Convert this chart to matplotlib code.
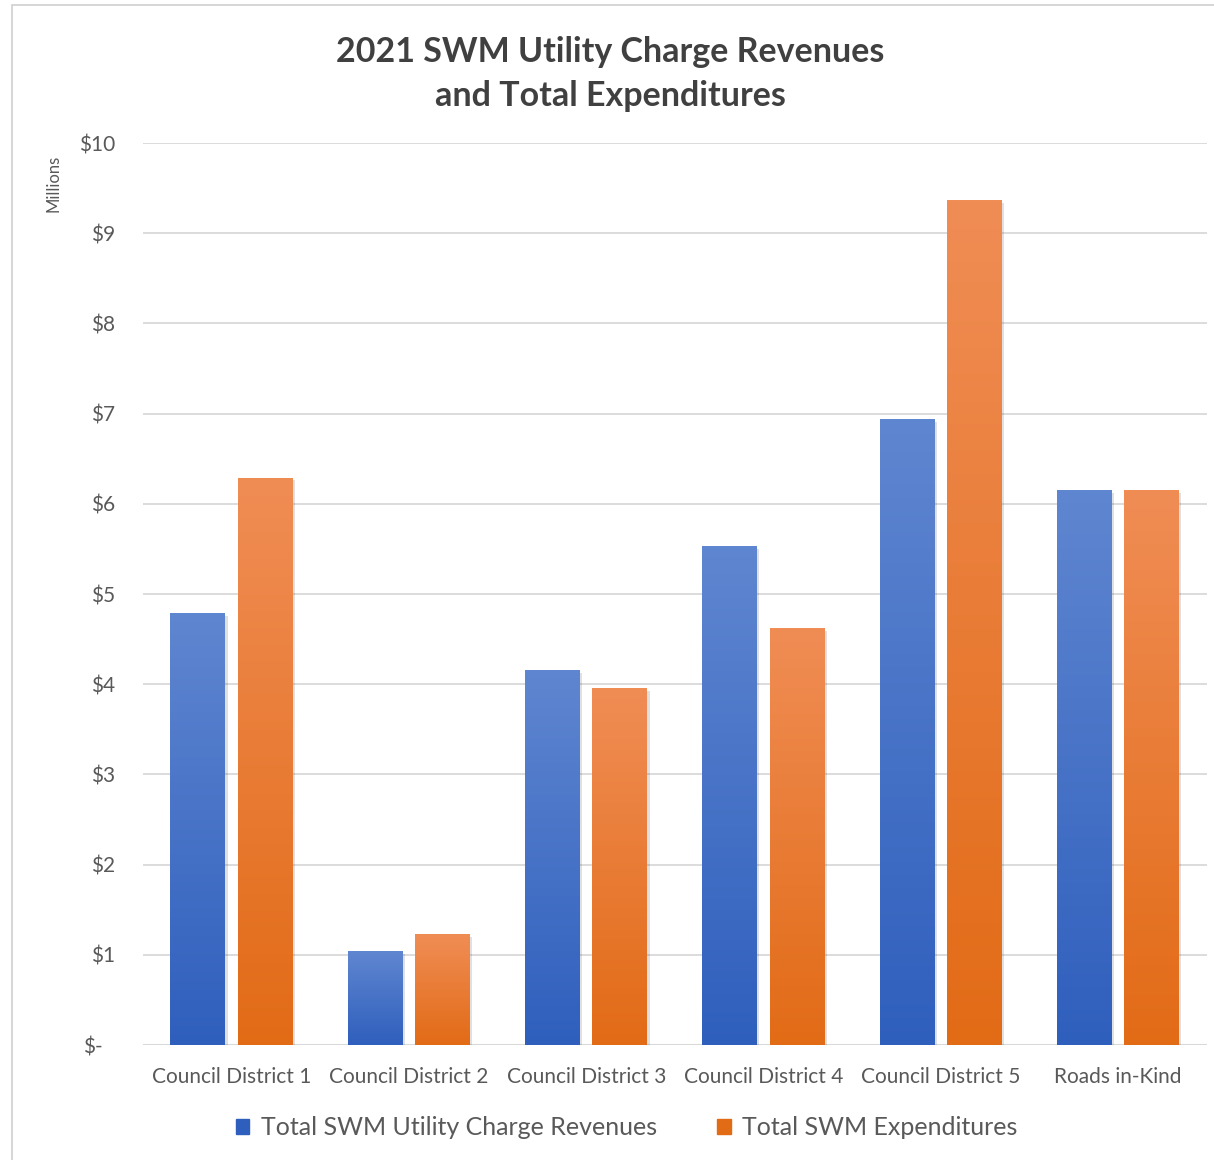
import matplotlib
matplotlib.use('Agg')
import matplotlib.pyplot as plt
import numpy as np
from matplotlib.colors import LinearSegmentedColormap
from matplotlib.patches import Rectangle

plt.rcParams['font.family'] = ['Lato', 'DejaVu Sans']

categories = ['Council District 1', 'Council District 2', 'Council District 3',
              'Council District 4', 'Council District 5', 'Roads in-Kind']
revenues = [4.79, 1.04, 4.16, 5.53, 6.94, 6.15]
expenditures = [6.29, 1.23, 3.96, 4.62, 9.37, 6.15]
series_names = ['Total SWM Utility Charge Revenues', 'Total SWM Expenditures']
yticks = [0, 1, 2, 3, 4, 5, 6, 7, 8, 9, 10]
ytick_labels = ['$-', '$1', '$2', '$3', '$4', '$5', '$6', '$7', '$8', '$9', '$10']

blue_top, blue_bottom = '#5f86d0', '#2f5fbd'
orange_top, orange_bottom = '#f08d55', '#e26b16'
text_color = '#595959'

fig = plt.figure(figsize=(12.14, 11.6), dpi=100)
ax = fig.add_axes([0.1178, 0.0991, 0.8763, 0.7776])

x = np.arange(len(categories))
width = 0.31
offset = 0.19

bars_rev = ax.bar(x - offset, revenues, width, color=blue_bottom, zorder=3,
                  label=series_names[0])
bars_exp = ax.bar(x + offset, expenditures, width, color=orange_bottom, zorder=3,
                  label=series_names[1])

# vertical gradient on every bar (lighter at the top)
grad = np.linspace(0, 1, 256).reshape(-1, 1)
for bars, top, bottom in [(bars_rev, blue_top, blue_bottom),
                          (bars_exp, orange_top, orange_bottom)]:
    cmap = LinearSegmentedColormap.from_list('g', [bottom, top])
    for b in bars:
        bx, by = b.get_x(), b.get_y()
        bw, bh = b.get_width(), b.get_height()
        # soft shadow on the right
        ax.add_patch(Rectangle((bx + 0.012, by), bw, bh - 0.03, color='#000000',
                               alpha=0.12, zorder=2, lw=0))
        im = ax.imshow(grad, extent=[bx, bx + bw, by, by + bh], origin='lower',
                       cmap=cmap, aspect='auto', zorder=4)
        im.set_clip_path(b)

ax.set_xlim(-0.5, len(categories) - 0.5)
ax.set_ylim(0, 10)
ax.set_yticks(yticks)
ax.set_yticklabels(ytick_labels)
ax.set_xticks(x)
ax.set_xticklabels(categories)
ax.tick_params(axis='both', length=0, labelsize=15, labelcolor=text_color)
ax.tick_params(axis='y', pad=20)
ax.tick_params(axis='x', pad=16)
ax.get_yticklabels()[0].set_x(-0.012)
ax.yaxis.grid(True, color='#d9d9d9', linewidth=1.3, zorder=0)
for s in ax.spines.values():
    s.set_visible(False)
ax.axhline(0, color='#d9d9d9', linewidth=1.5, zorder=1)

fig.text(0.0437, 0.842, 'Millions', rotation=90, ha='center', va='center',
         fontsize=12, color=text_color)

fig.text(0.503, 0.936, '2021 SWM Utility Charge Revenues\nand Total Expenditures',
         ha='center', va='center', fontsize=24.5, fontweight='bold', color='#404040',
         linespacing=1.45)

labels = series_names
leg = fig.legend([Rectangle((0, 0), 1, 1, color=blue_bottom),
                  Rectangle((0, 0), 1, 1, color=orange_bottom)], labels,
                 loc='center', bbox_to_anchor=(0.516, 0.028), ncol=2, frameon=False,
                 fontsize=18, handlelength=0.55, handleheight=0.55, handletextpad=0.45,
                 columnspacing=2.4, labelcolor=text_color)

# chart border
fig.add_artist(Rectangle((12 / 1214, -0.01), 1.1, 1 - 5 / 1160 + 0.01,
                         transform=fig.transFigure, fill=False,
                         edgecolor='#d0d0d0', linewidth=1.2))

fig.savefig('out.png', dpi=100, facecolor='white')
